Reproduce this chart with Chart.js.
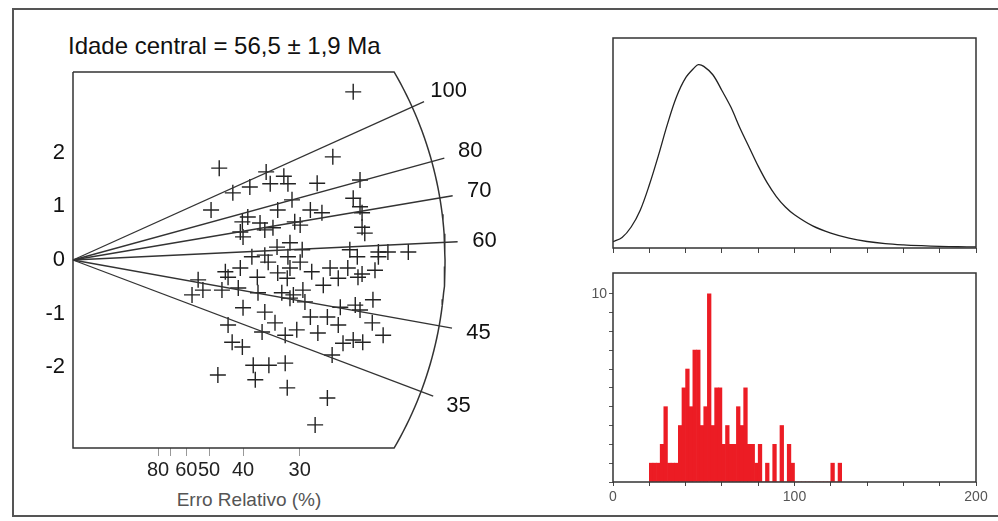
<!DOCTYPE html>
<html lang="pt-BR">
<head>
  <meta charset="UTF-8" />
  <title>Gráfico radial - Idade central</title>
  <script src="https://cdn.jsdelivr.net/npm/chart.js"></script>
  <style>
    body { margin: 0; background: #fff; font-family: "Liberation Sans", Arial, sans-serif; }
    #painel { position: relative; width: 998px; height: 521px; overflow: hidden; }
    .moldura { position: absolute; left: 12px; top: 8px; width: 1000px; height: 505px; border: 2px solid #555; }
    canvas { position: absolute; }
    #radial { left: 0; top: 0; }
    #densidade { left: 560px; top: 0; }
    #histograma { left: 560px; top: 250px; }
    .titulo { position: absolute; left: 68px; top: 34px; font-size: 24px; line-height: 24px; color: #111; white-space: nowrap; }
    .eixo { position: absolute; left: 149px; width: 200px; top: 490px; text-align: center; font-size: 19px; line-height: 19px; color: #555; }
  </style>
</head>
<body>
  <div id="painel">
    <div class="moldura"></div>
    <div class="titulo">Idade central = 56,5 ± 1,9 Ma</div>
    <div class="eixo">Erro Relativo (%)</div>
    <canvas id="radial" width="530" height="521"></canvas>
    <canvas id="densidade" width="438" height="260"></canvas>
    <canvas id="histograma" width="438" height="271"></canvas>
  </div>

  <script>
    const idadeCentral = 56.5;

    // cada grão: precisão (1/erro relativo) e estimativa padronizada
    const precisao = [
      4.12, 3.82, 2.15, 2.84, 3.10, 2.35, 2.60, 2.90, 3.16, 3.59,
      4.22, 3.22, 2.03, 2.57, 3.01, 3.49, 3.66, 4.12, 4.22, 4.25,
      4.25, 2.49, 2.75, 2.94, 2.46, 3.34, 4.29, 2.82, 2.50, 3.19,
      3.00, 2.63, 2.82, 3.16, 3.37, 4.07, 4.49, 4.63, 4.93, 4.18,
      4.49, 3.26, 2.46, 2.24, 2.71, 3.01, 3.15, 1.84, 1.91, 1.75,
      2.28, 2.43, 2.72, 3.07, 3.19, 2.50, 2.82, 2.97, 2.28, 3.12,
      3.29, 2.34, 2.49, 2.65, 2.88, 3.12, 2.13, 2.68, 3.15, 3.51,
      3.68, 4.04, 4.19, 3.38, 3.24, 3.93, 4.22, 4.41, 3.49, 3.74,
      3.90, 4.40, 4.56, 4.12, 4.26, 3.97, 3.81, 3.74, 3.56, 3.34,
      3.78, 2.87, 3.19, 3.90, 4.25, 4.44, 2.19, 4.15, 3.60, 2.78,
      3.41
    ];
    const estimativa = [
      3.13, 1.92, 1.71, 1.64, 1.56, 1.25, 1.36, 1.42, 1.42, 1.43,
      1.49, 1.12, 0.93, 0.80, 0.93, 0.93, 0.88, 1.15, 0.99, 0.88,
      0.61, 0.71, 0.69, 0.60, 0.52, 0.65, 0.50, 0.56, 0.43, 0.32,
      0.24, 0.06, 0.09, 0.06, 0.19, 0.19, 0.15, 0.15, 0.15, 0.06,
      0.06, 0.71, -0.15, -0.22, -0.32, -0.24, -0.34, -0.37, -0.56, -0.65,
      -0.32, -0.52, -0.61, -0.61, -0.71, -0.89, -0.97, -1.17, -1.21, -1.40,
      -1.30, -1.53, -1.62, -1.96, -1.96, -1.92, -2.14, -2.23, -2.38, -0.22,
      -0.47, -0.15, -0.32, -0.56, -0.65, -0.88, -0.93, -0.74, -1.06, -1.06,
      -1.21, -1.17, -1.40, -1.49, -1.53, -1.55, -1.77, -2.57, -3.07, -0.04,
      -0.15, -0.04, -0.15, -0.34, -0.26, -0.19, -0.56, -0.84, -1.36, -1.34,
      -0.78
    ];

    // idades (Ma) da escala radial e erros relativos (%) do eixo x
    const idadesRadiais = [100, 80, 70, 60, 45, 35];
    const errosRelativos = [80, 70, 60, 50, 40, 30];
    const errosRotulados = [80, 60, 50, 40, 30];
    const marcasY = [-2, -1, 0, 1, 2];

    // curva de densidade de probabilidade
    const idadesCurva = [0, 5, 10, 15, 20, 25, 30, 35, 40, 45, 47, 50, 55, 60, 65, 70, 75, 80, 85, 90,
                         95, 100, 110, 120, 130, 140, 150, 160, 170, 180, 190, 200];
    const densidade = [0.03, 0.05, 0.10, 0.18, 0.30, 0.44, 0.59, 0.72, 0.81, 0.86, 0.873, 0.865, 0.825, 0.75,
                       0.67, 0.57, 0.48, 0.39, 0.31, 0.245, 0.195, 0.158, 0.105, 0.071, 0.047, 0.031, 0.021,
                       0.015, 0.011, 0.008, 0.006, 0.005];

    // histograma de idades, classes de 2 Ma (centro da classe)
    const classesHist = [21, 23, 25, 27, 29, 31, 33, 35, 37, 39, 41, 43, 45, 47, 49, 51, 53, 55, 57, 59,
                         61, 63, 65, 67, 69, 71, 73, 75, 77, 79, 81, 83, 85, 87, 89, 91, 93, 95, 97, 99,
                         101, 103, 105, 107, 109, 111, 113, 115, 117, 119, 121, 123, 125];
    const contagens = [1, 1, 1, 2, 4, 1, 1, 1, 3, 5, 6, 4, 7, 7, 3, 4, 10, 3, 5, 5,
                       2, 3, 2, 2, 4, 3, 5, 2, 2, 1, 2, 0, 1, 0, 2, 0, 3, 0, 2, 1,
                       0, 0, 0, 0, 0, 0, 0, 0, 0, 0, 1, 0, 1];

    Chart.defaults.font.family = "'Liberation Sans', Arial, sans-serif";
    Chart.defaults.color = '#222';
    Chart.defaults.animation = false;
    Chart.defaults.plugins.legend.display = false;
    Chart.defaults.plugins.tooltip.enabled = false;

    // ---- gráfico radial ----
    const semiX = 5.47, semiY = 6.93, limY = 3.5;
    const angCanto = Math.asin(limY / semiY);
    const xCanto = semiX * Math.cos(angCanto);

    const contorno = [{ x: 0, y: limY }, { x: xCanto, y: limY }];
    for (let i = 1; i < 60; i++) {
      const a = angCanto - (2 * angCanto * i) / 60;
      contorno.push({ x: semiX * Math.cos(a), y: semiY * Math.sin(a) });
    }
    contorno.push({ x: xCanto, y: -limY }, { x: 0, y: -limY }, { x: 0, y: limY });

    const linhasIdade = idadesRadiais.map(t => {
      const s = Math.log(t / idadeCentral);
      const xf = 1.035 / Math.sqrt(1 / (semiX * semiX) + (s * s) / (semiY * semiY));
      return {
        label: String(t),
        rotulo: true,
        data: [{ x: 0, y: 0 }, { x: xf, y: s * xf }],
        showLine: true, pointRadius: 0, borderColor: '#333', borderWidth: 1.3, clip: false
      };
    });

    // rótulo de idade um pouco além da ponta de cada linha
    const rotulosIdade = {
      id: 'rotulosIdade',
      afterDatasetsDraw(chart) {
        const { ctx, scales: { x, y } } = chart;
        const ox = x.getPixelForValue(0), oy = y.getPixelForValue(0);
        ctx.save();
        ctx.font = '22px "Liberation Sans", Arial, sans-serif';
        ctx.fillStyle = '#111';
        ctx.textAlign = 'center';
        ctx.textBaseline = 'middle';
        chart.data.datasets.forEach(ds => {
          if (!ds.rotulo) return;
          const fim = ds.data[1];
          const px = x.getPixelForValue(fim.x), py = y.getPixelForValue(fim.y);
          const d = Math.hypot(px - ox, py - oy);
          ctx.fillText(ds.label, px + (px - ox) / d * 27, py + (py - oy) / d * 27);
        });
        ctx.restore();
      }
    };

    new Chart(document.getElementById('radial'), {
      type: 'scatter',
      data: {
        datasets: [
          { data: contorno, showLine: true, pointRadius: 0, borderColor: '#333', borderWidth: 1.5, clip: false },
          ...linhasIdade,
          {
            data: precisao.map((p, i) => ({ x: p, y: estimativa[i] })),
            pointStyle: 'cross', pointRadius: 8, borderColor: '#222', borderWidth: 1.4, clip: false
          }
        ]
      },
      options: {
        responsive: false,
        layout: { padding: { left: 23, top: 72, right: 70, bottom: 0 } },
        scales: {
          x: {
            type: 'linear', min: 0, max: 5.69,
            afterBuildTicks: s => { s.ticks = errosRelativos.map(e => ({ value: 100 / e })); },
            afterFit: s => { s.height = 73; },
            ticks: {
              autoSkip: false, maxRotation: 0, padding: 2,
              font: { size: 20 }, color: '#222',
              callback: (v, i) => errosRotulados.includes(errosRelativos[i]) ? String(errosRelativos[i]) : ''
            },
            grid: { drawOnChartArea: false, tickLength: 8, color: '#999' },
            border: { display: false }
          },
          y: {
            type: 'linear', min: -limY, max: limY,
            afterBuildTicks: s => { s.ticks = marcasY.map(v => ({ value: v })); },
            afterFit: s => { s.width = 50; },
            ticks: { padding: 8, font: { size: 22 }, color: '#111' },
            grid: { display: false, drawTicks: false },
            border: { display: false }
          }
        }
      },
      plugins: [rotulosIdade]
    });

    // moldura retangular dos painéis da direita
    const caixa = {
      id: 'caixa',
      afterDraw(chart) {
        const { ctx, chartArea: a } = chart;
        ctx.save();
        ctx.strokeStyle = '#333';
        ctx.lineWidth = 1.5;
        ctx.strokeRect(a.left, a.top, a.right - a.left, a.bottom - a.top);
        ctx.restore();
      }
    };

    // ---- densidade ----
    new Chart(document.getElementById('densidade'), {
      type: 'line',
      data: {
        datasets: [{
          data: idadesCurva.map((t, i) => ({ x: t, y: densidade[i] })),
          borderColor: '#222', borderWidth: 1.3, pointRadius: 0, tension: 0.35
        }]
      },
      options: {
        responsive: false,
        layout: { padding: { left: 53, top: 38, right: 22, bottom: 0 } },
        scales: {
          x: {
            type: 'linear', min: 0, max: 200,
            ticks: { stepSize: 20, display: false },
            afterFit: s => { s.height = 12; },
            grid: { drawOnChartArea: false, tickLength: 5, color: '#444' },
            border: { display: false }
          },
          y: { display: false, min: 0, max: 1 }
        }
      },
      plugins: [caixa]
    });

    // ---- histograma ----
    new Chart(document.getElementById('histograma'), {
      type: 'bar',
      data: {
        datasets: [{
          data: classesHist.map((c, i) => ({ x: c, y: contagens[i] })),
          backgroundColor: '#ec1c24', borderWidth: 0,
          barPercentage: 1, categoryPercentage: 1
        }]
      },
      options: {
        responsive: false,
        layout: { padding: { left: 0, top: 23, right: 22, bottom: 0 } },
        scales: {
          x: {
            type: 'linear', min: 0, max: 200, offset: false,
            ticks: {
              stepSize: 20, autoSkip: false, maxRotation: 0, padding: 3,
              font: { size: 14 }, color: '#555',
              callback: v => (v % 100 === 0 ? String(v) : '')
            },
            afterFit: s => { s.height = 39; },
            grid: { offset: false, drawOnChartArea: false, tickLength: 4, color: '#444' },
            border: { display: false }
          },
          y: {
            min: 0, max: 11.1,
            afterBuildTicks: s => { s.ticks = [0, 1, 2, 3, 4, 5, 6, 7, 8, 9, 10].map(v => ({ value: v })); },
            afterFit: s => { s.width = 53; },
            ticks: {
              padding: 2, font: { size: 14 }, color: '#555',
              callback: v => (v === 10 ? '10' : '')
            },
            grid: { drawOnChartArea: false, tickLength: 4, color: '#555' },
            border: { display: false }
          }
        }
      },
      plugins: [caixa]
    });
  </script>
</body>
</html>
